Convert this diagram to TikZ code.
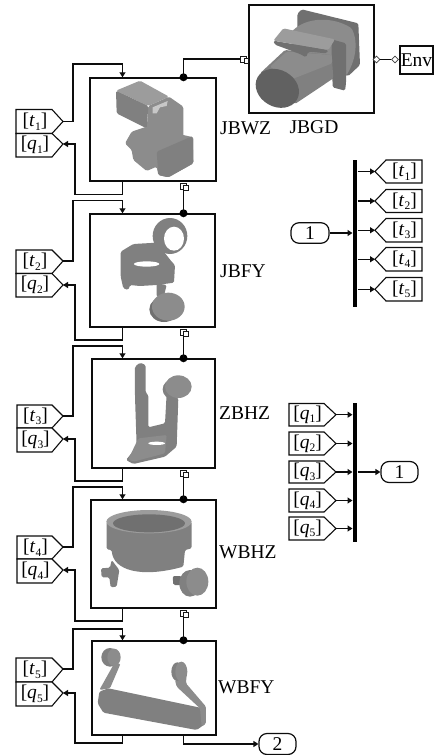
\documentclass[tikz,border=0pt]{standalone}
\usepackage{fontspec}
\setmainfont{Liberation Serif}
\usetikzlibrary{arrows.meta,shapes.geometric}
\tikzset{
  wire/.style={line width=1.35pt,draw=black!95},
  arrowwire/.style={wire,-{Triangle[length=5pt,width=6pt]}},
  blockbox/.style={draw=black!95,line width=1.5pt,fill=white,inner sep=0pt},
  blocklabel/.style={font=\fontsize{19.5}{20}\selectfont,anchor=west,inner sep=0pt},
  tagbox/.style={draw=black!95,line width=1.1pt,fill=white,line join=miter},
  tagtext/.style={font=\fontsize{19.5}{20}\selectfont,inner sep=0pt},
  busbar/.style={fill=black,draw=none},
  portdot/.style={fill=black,draw=none,circle,minimum size=8pt,inner sep=0pt},
  portsq/.style={draw=black!90,line width=1pt,fill=white,minimum size=6pt,inner sep=0pt},
  portdiamond/.style={draw=black!75,line width=.7pt,fill=white,diamond,minimum size=7pt,inner sep=0pt},
  ioport/.style={draw=black!95,line width=1.2pt,rounded corners=8pt,fill=white,inner sep=0pt,
     font=\fontsize{19.5}{20}\selectfont},
  gA/.style={fill=black!45,draw=none,rounded corners=1.5pt},
  gB/.style={fill=black!50,draw=none,rounded corners=1.5pt},
  gC/.style={fill=black!56,draw=none,rounded corners=1.5pt},
  gD/.style={fill=black!39,draw=none,rounded corners=1.5pt},
  holefill/.style={fill=white,draw=none},
}
\newcommand{\tagsym}[2]{[\textit{#1}\raisebox{-3.5pt}{\fontsize{11.5}{12}\selectfont #2}]}
% east-pointing tag: name, left x, notch x, tip x, top y, bottom y, tip y, sym, index
\newcommand{\tagE}[9]{%
  \draw[tagbox] (#2,#5) -- (#3,#5) -- (#4,#7) -- (#3,#6) -- (#2,#6) -- cycle;
  \coordinate (#1) at (#4,#7);
  \node[tagtext] (#1-txt) at ({(#2+#3)/2+1},{(#5+#6)/2}) {\tagsym{#8}{#9}};
}
% west-pointing tag: name, tip x, notch x, right x, top y, bottom y, sym, index
\newcommand{\tagW}[8]{%
  \draw[tagbox] (#4,#5) -- (#3,#5) -- (#2,{(#5+#6)/2}) -- (#3,#6) -- (#4,#6) -- cycle;
  \coordinate (#1) at (#2,{(#5+#6)/2});
  \node[tagtext] (#1-txt) at ({(#3+#4)/2+.5},{(#5+#6)/2}) {\tagsym{#7}{#8}};
}
\begin{document}
\begin{tikzpicture}[x=1pt,y=-1pt]
\useasboundingbox (0,0) rectangle (437,755);
\fill[white] (0,0) rectangle (437,755);

% blocks
\node[blockbox,minimum width=126pt,minimum height=103pt] (jbwz) at (153,129.5) {};
\node[blockbox,minimum width=125pt,minimum height=113pt] (jbfy) at (152.5,270.5) {};
\node[blockbox,minimum width=123pt,minimum height=109pt] (zbhz) at (153.5,413.5) {};
\node[blockbox,minimum width=125pt,minimum height=108pt] (wbhz) at (153.5,554) {};
\node[blockbox,minimum width=124pt,minimum height=94pt] (wbfy) at (154,688) {};
\node[blockbox,minimum width=125pt,minimum height=108pt] (jbgd) at (311.5,59) {};
\node[draw=black!95,line width=1.3pt,fill=white,minimum width=33pt,minimum height=28pt,inner sep=0pt,
      font=\fontsize{19.5}{20}\selectfont] (env) at (416.5,60) {Env};

% JBWZ solid
\begin{scope}[scale=1/3]
\fill[gA] (445,318)--(507,290)--(550,320)--(550,410)--(490,400)--(440,390)--cycle;
\fill[black!22,draw=none] (458,322)--(503,303)--(500,318)--(480,322)--(470,340)--(458,340)--cycle;
\fill[gD] (348,272)--(420,242)--(507,290)--(445,318)--cycle;
\fill[gB] (348,272)--(445,318)--(440,385)--(350,340)--cycle;
\fill[gA] (375,430)--(395,395)--(440,380)--(500,395)--(550,405)--(580,412)--(580,490)--(505,532)--(475,525)--(470,500)--(440,513)--(400,480)--(395,450)--cycle;
\fill[gB] (470,455)--(578,408)--(580,490)--(505,532)--(475,525)--cycle;
\end{scope}

% JBGD solid
\begin{scope}[shift={(220,0)},scale=1/3]
\fill[gC] (232,42)--(245,28)--(415,70)--(420,195)--(385,228)--(340,215)--(232,130)--cycle;
\fill[gA] (215,95) .. controls (260,50) and (340,50) .. (395,85) .. controls (412,120) and (412,170) .. (380,225) -- (340,240) -- (215,150) -- cycle;
\fill[gC] (335,118)--(378,130)--(378,250)--(375,272)--(338,262)--(335,155)--cycle;
\fill[gB] (120,220)--(195,150)--(335,165)--(340,235)--(225,312)--cycle;
\fill[gA] (150,200)--(200,155)--(335,165)--(337,190)--(210,240)--cycle;
\fill[gC] (160,122)--(325,150)--(320,160)--(265,155)--(258,172)--(240,162)--(165,134)--cycle;
\fill[gD] (160,122)--(190,85)--(345,118)--(325,150)--cycle;
\fill[black!62,rotate around={-30:(172,265)}] (172,265) ellipse (68 and 55);
\end{scope}

% JBFY solid
\begin{scope}[shift={(0,190)},scale=1/3]
\fill[gB] (510,138) ellipse (52 and 54);
\fill[holefill] (522,146) ellipse (30 and 36);
\fill[gB] (362,185)--(400,162)--(470,158)--(515,215)--(525,225)--(522,278)--(470,285)--(420,288)--(390,285)--(385,300)--(370,295)--(362,260)--cycle;
\fill[holefill] (440,222) ellipse (38 and 8);
\fill[gB] (470,280)--(500,285)--(490,325)--(470,320)--cycle;
\fill[gC] (492,358) ellipse (44 and 38);
\fill[gA] (505,350) ellipse (49 and 42);
\end{scope}

% ZBHZ solid
\begin{scope}[shift={(0,190)},scale=1/3]
\fill[gB] (405,530)--(420,518)--(437,525)--(437,608)--(445,615)--(445,712)--(495,700)--(500,610)--(535,625)--(530,770)--(495,800)--(400,822)--(378,810)--(410,770)--(405,620)--cycle;
\fill[gA] (415,745)--(500,735)--(495,790)--(400,815)--(385,808)--cycle;
\fill[holefill] (470,760) ellipse (25 and 5);
\fill[gB] (520,598) ellipse (32 and 30);
\fill[gA] (535,590) ellipse (40 and 34);
\end{scope}

% WBHZ solid
\begin{scope}[shift={(0,470)},scale=1/3]
\fill[gB] (320,155) -- (320,238) -- (335,240) .. controls (340,300) and (420,325) .. (550,290) -- (555,240) -- (575,235) -- (575,155) -- cycle;
\fill[gD] (447,155) ellipse (128 and 35);
\fill[gC] (447,160) ellipse (108 and 27);
\fill[gB] (335,270)--(358,300)--(350,350)--(332,352)--(328,322)--(305,322)--(303,295)--(330,293)--cycle;
\fill[gC] (518,318)--(545,318)--(545,345)--(520,345)--cycle;
\fill[gB] (570,340) ellipse (32 and 40);
\fill[gA] (592,335) ellipse (33 and 42);
\end{scope}

% WBFY solid
\begin{scope}[shift={(0,470)},scale=1/3]
\fill[gB] (298,665)--(325,655)--(610,715)--(618,760)--(590,780)--(310,728)--(293,700)--cycle;
\fill[gA] (298,660)--(340,585)--(362,580)--(330,655)--cycle;
\fill[gB] (330,562) ellipse (26 and 28);
\fill[gA] (342,562) ellipse (20 and 26);
\fill[gA] (525,630)--(560,610)--(558,640)--(618,710)--(618,760)--(605,770)--(600,715)--(530,650)--cycle;
\fill[gB] (532,605) ellipse (18 and 28);
\fill[gA] (544,605) ellipse (18 and 30);
\end{scope}

% left tags
\tagE{t1}{16}{52}{63}{109.5}{133.5}{121.5}{t}{1}
\tagE{q1}{16}{52}{63}{133.5}{157}{144}{q}{1}
\tagE{t2}{16}{52}{63}{250}{273.5}{261}{t}{2}
\tagE{q2}{16}{52}{63}{273.5}{297}{285}{q}{2}
\tagE{t3}{17}{52}{63}{405}{428}{416}{t}{3}
\tagE{q3}{17}{52}{63}{428}{452}{439}{q}{3}
\tagE{t4}{17}{52}{63}{536}{559}{547}{t}{4}
\tagE{q4}{17}{52}{63}{559}{583}{570}{q}{4}
\tagE{t5}{16}{52}{63}{658}{682}{669}{t}{5}
\tagE{q5}{16}{52}{63}{682}{706}{693}{q}{5}

% top right tags
\tagW{rt1}{375}{386}{422}{160}{183}{t}{1}
\tagW{rt2}{375}{386}{422}{189.5}{212.5}{t}{2}
\tagW{rt3}{375}{386}{422}{218.5}{242}{t}{3}
\tagW{rt4}{375}{386}{422}{247.5}{271}{t}{4}
\tagW{rt5}{375}{386}{422}{277.5}{301}{t}{5}
% bottom right tags
\tagE{rq1}{289}{324}{336}{403.5}{426}{414.7}{q}{1}
\tagE{rq2}{289}{324}{336}{432}{455}{443.5}{q}{2}
\tagE{rq3}{289}{324}{336}{461}{483}{472}{q}{3}
\tagE{rq4}{289}{324}{336}{489}{512}{500.5}{q}{4}
\tagE{rq5}{289}{324}{336}{517}{540}{528.5}{q}{5}

% buses
\node[busbar,minimum width=4.6pt,minimum height=147pt,inner sep=0pt] (bust) at (355,233.5) {};
\node[busbar,minimum width=4.6pt,minimum height=139pt,inner sep=0pt] (busq) at (355,472.5) {};

% in/out ports
\node[ioport,minimum width=38pt,minimum height=20.5pt] (in1) at (310,233) {1};
\node[ioport,minimum width=37pt,minimum height=21pt] (out1) at (399.5,472) {1};
\node[ioport,minimum width=37pt,minimum height=21pt] (out2) at (277.5,744) {2};

% bus wires
\foreach \n in {1,...,5} \draw[arrowwire] (bust.east |- rt\n) -- (rt\n);
\draw[arrowwire] (in1.east) -- (bust.west |- in1);
\foreach \n in {1,...,5} \draw[arrowwire] (rq\n) -- (busq.west |- rq\n);
\draw[arrowwire] (busq.east |- out1) -- (out1.west);

% joint chain
\coordinate (xch) at (183.5,0);
\node[portsq] (pgd) at (243.5,59) {};
\node[portsq,minimum size=4.5pt] at (246.5,61) {};
\node[portdot] (d1) at (xch |- jbwz.north) {};
\draw[wire,line width=1.4pt] (d1.center) |- (pgd.west);
\foreach \top/\bot/\nm in {jbfy/jbwz/a,zbhz/jbfy/b,wbhz/zbhz/c,wbfy/wbhz/d}{
  \node[portsq] (s\nm) at ([yshift=-5pt]xch |- \bot.south) {};
  \node[portsq,minimum size=4.5pt] at ([xshift=2.5pt,yshift=-6pt]xch |- \bot.south) {};
  \node[portdot] (p\nm) at (xch |- \top.north) {};
  \draw[wire] (s\nm.south) -- (p\nm.center);
}
% env
\node[portdiamond] (d2) at (376.5,59.5) {};
\node[portdiamond] (d3) at (395,59.5) {};
\draw[wire] (d2.east) -- (d3.west);

% side loops
\foreach \i/\blk/\ya/\yb in {1/jbwz/64/194.5,2/jbfy/200.5/340,3/zbhz/346/481,4/wbhz/487/621,5/wbfy/629/743}{
  \coordinate (u\i) at (73,\ya);
  \coordinate (v\i) at (75,\yb);
  \coordinate (b\i) at (122.5,0);
  \draw[arrowwire] (t\i) -| (u\i) -| (b\i |- \blk.north);
  \draw[arrowwire] (b\i |- \blk.south) |- (v\i) |- (q\i);
}
\coordinate (o2) at (xch |- out2);
\draw[arrowwire] (xch |- wbfy.south) -- (o2) -- (out2.west);

% labels
\node[blocklabel] (lwz) at (220,128) {JBWZ};
\node[blocklabel,anchor=center] (lgd) at (314,127) {JBGD};
\node[blocklabel] (lfy) at (220,271) {JBFY};
\node[blocklabel] (lhz) at (219,413) {ZBHZ};
\node[blocklabel] (lwh) at (219,552) {WBHZ};
\node[blocklabel] (lwf) at (218,687) {WBFY};
\end{tikzpicture}
\end{document}
